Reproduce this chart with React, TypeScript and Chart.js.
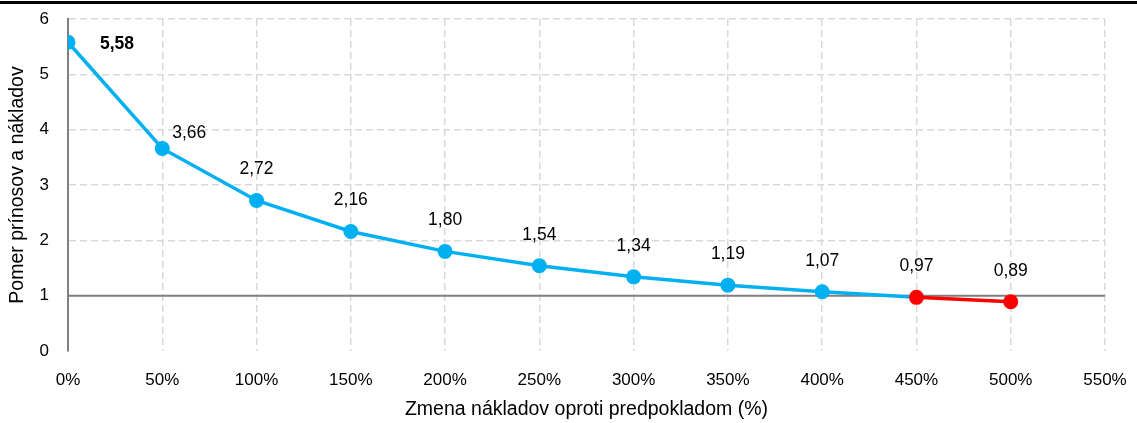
import React, { useEffect, useRef } from "react";
import { Chart, registerables } from "chart.js";

Chart.register(...registerables);

const xValues = [0, 50, 100, 150, 200, 250, 300, 350, 400, 450, 500];
const ratios = [5.58, 3.66, 2.72, 2.16, 1.8, 1.54, 1.34, 1.19, 1.07, 0.97, 0.89];
const redFromIndex = 9; // points below 1 (0.97, 0.89) are red
const xTitle = "Zmena nákladov oproti predpokladom (%)";
const yTitle = "Pomer prínosov a nákladov";

const BLUE = "#00B0F0";
const RED = "#FF0000";
const FONT = "'Liberation Sans', Arial, sans-serif";
const TICK_SIZE = 17;
const TITLE_SIZE = 19.5;
const LABEL_SIZE = 17.5;

const fmt = (v: number) => v.toFixed(2).replace(".", ",");

const refLinePlugin = {
  id: "refLine",
  beforeDatasetsDraw(chart: any) {
    const { ctx, chartArea, scales } = chart;
    const y = scales.y.getPixelForValue(1);
    ctx.save();
    ctx.strokeStyle = "#808080";
    ctx.lineWidth = 2;
    ctx.beginPath();
    ctx.moveTo(chartArea.left, y);
    ctx.lineTo(chartArea.right, y);
    ctx.stroke();
    ctx.restore();
  },
};

const labelPlugin = {
  id: "valueLabels",
  afterDatasetsDraw(chart: any) {
    const { ctx, scales } = chart;
    ctx.save();
    ctx.fillStyle = "#000";
    ctx.textAlign = "center";
    ctx.textBaseline = "middle";
    ratios.forEach((v, i) => {
      const px = scales.x.getPixelForValue(xValues[i]);
      const py = scales.y.getPixelForValue(v);
      let dx = 0;
      let dy = -31;
      if (i === 0) {
        dx = 49;
        dy = 2;
        ctx.font = `bold ${LABEL_SIZE}px ${FONT}`;
      } else {
        ctx.font = `${LABEL_SIZE}px ${FONT}`;
        if (i === 1) {
          dx = 27;
          dy = -15;
        }
      }
      ctx.fillText(fmt(v), px + dx, py + dy);
    });
    ctx.restore();
  },
};

export default function App() {
  const ref = useRef<HTMLCanvasElement | null>(null);
  useEffect(() => {
    if (!ref.current) return;
    const points = xValues.map((x, i) => ({ x, y: ratios[i] }));
    const colors = points.map((_, i) => (i >= redFromIndex ? RED : BLUE));
    const chart = new Chart(ref.current, {
      type: "line",
      data: {
        datasets: [
          {
            data: points,
            borderWidth: 3.5,
            pointRadius: 7.5,
            pointHoverRadius: 7.5,
            pointBorderWidth: 0,
            pointBackgroundColor: colors,
            pointBorderColor: colors,
            borderColor: BLUE,
            segment: {
              borderColor: (c: any) => (c.p0DataIndex >= redFromIndex ? RED : BLUE),
            },
            tension: 0,
          },
        ],
      },
      options: {
        animation: false,
        responsive: false,
        maintainAspectRatio: false,
        layout: { padding: { top: 19, right: 32, left: 0, bottom: 0 } },
        plugins: { legend: { display: false }, tooltip: { enabled: false } },
        scales: {
          x: {
            type: "linear",
            min: 0,
            max: 550,
            ticks: {
              stepSize: 50,
              color: "#000",
              padding: 19,
              font: { family: FONT, size: TICK_SIZE },
              callback: (v: any) => `${v}%`,
              maxRotation: 0,
            },
            grid: { color: "#d9d9d9", lineWidth: 1.5, drawTicks: false },
            border: { display: false, dash: [7, 4] },
            title: {
              display: true,
              text: xTitle,
              color: "#000",
              font: { family: FONT, size: TITLE_SIZE },
              padding: { top: 2, bottom: 2 },
            },
            afterFit: (s: any) => {
              s.height = 72;
              s.paddingLeft = 0;
              s.paddingRight = 0;
            },
          },
          y: {
            min: 0,
            max: 6,
            ticks: {
              stepSize: 1,
              color: "#000",
              padding: 19,
              font: { family: FONT, size: TICK_SIZE },
            },
            grid: {
              color: (c: any) => (c.index === 0 ? "rgba(0,0,0,0)" : "#d9d9d9"),
              lineWidth: 1.5,
              drawTicks: false,
            },
            border: { display: true, color: "#808080", width: 2, dash: [7, 4] },
            title: {
              display: true,
              text: yTitle,
              color: "#000",
              font: { family: FONT, size: TITLE_SIZE },
              padding: { top: 6, bottom: 2 },
            },
            afterFit: (s: any) => {
              s.width = 68;
              s.paddingTop = 0;
              s.paddingBottom = 0;
            },
          },
        },
      },
      plugins: [refLinePlugin, labelPlugin],
    } as any);
    return () => chart.destroy();
  }, []);

  return (
    <div style={{ position: "absolute", left: 0, top: 0, width: 1137, height: 423, background: "#fff" }}>
      <canvas ref={ref} width={1137} height={423} style={{ display: "block" }} />
      <div style={{ position: "absolute", left: 0, top: 1, width: 1137, height: 3, background: "#000" }} />
    </div>
  );
}
